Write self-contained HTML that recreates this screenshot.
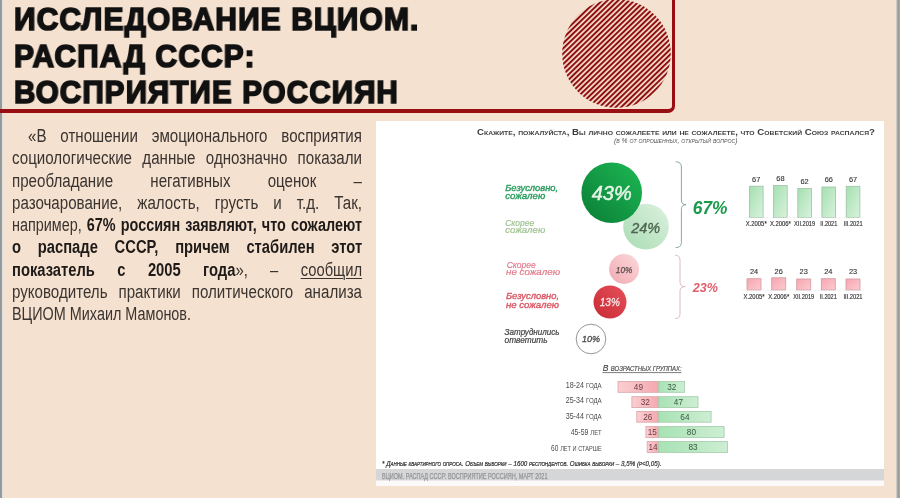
<!DOCTYPE html>
<html><head><meta charset="utf-8">
<style>
*{margin:0;padding:0;box-sizing:border-box}
html,body{width:900px;height:498px;overflow:hidden}
body{position:relative;background:#f5e1cf;font-family:"Liberation Sans",sans-serif}
.abs{position:absolute}
#para,.tl,svg{will-change:transform}
#lstrip{left:0;top:0;width:5px;height:498px;background:linear-gradient(90deg,#959a9c 0,#959a9c 2px,#e2dfdb 2.2px,#f0e4d8 4px,#f5e1cf 5px)}
#rstrip{left:895.5px;top:0;width:4.5px;height:498px;background:linear-gradient(90deg,#e0d8cf 0,#a0a0a0 1.8px,#9c9c9c 2.5px,#ababab 4.5px)}
#frame{left:-10px;top:-10px;width:684.8px;height:122.8px;border-right:3.5px solid #980e13;border-bottom:4px solid #980e13;border-bottom-right-radius:7px}
.tl{position:absolute;left:13.5px;font-weight:bold;font-size:32px;line-height:32px;color:#111;white-space:nowrap;transform-origin:0 0;-webkit-text-stroke:1.7px #111;letter-spacing:1.2px}
#para{color:#3a3431;font-size:18px}
.pl{position:absolute;height:22.3px;line-height:22.3px;white-space:pre;display:flex;justify-content:space-between;transform:scaleX(0.8);transform-origin:0 0}
.pl b{font-weight:bold;color:#1e1a18}
.pl u{text-decoration:underline;text-decoration-thickness:1px;text-underline-offset:2px}
#chart{left:376px;top:121px;width:508px;height:365px;background:#fff;overflow:hidden}
</style></head><body>
<div id="lstrip" class="abs"></div>
<div id="rstrip" class="abs"></div>
<svg class="abs" style="left:560px;top:-2px" width="114" height="112" viewBox="0 0 114 112">
  <defs>
    <clipPath id="cc"><circle cx="56.5" cy="55.5" r="54.3"/></clipPath>
    <pattern id="hp" patternUnits="userSpaceOnUse" width="4" height="3.75" patternTransform="rotate(-44)">
      <rect x="0" y="0" width="4" height="2.0" fill="#8e0d10"/>
    </pattern>
  </defs>
  <rect x="0" y="0" width="114" height="112" fill="url(#hp)" clip-path="url(#cc)"/>
</svg>
<div id="frame" class="abs"></div>
<div class="tl" id="t1" style="top:3px;transform:scaleX(0.935)">ИССЛЕДОВАНИЕ ВЦИОМ.</div>
<div class="tl" id="t2" style="top:40px;transform:scaleX(0.935)">РАСПАД СССР:</div>
<div class="tl" id="t3" style="top:76px;transform:scaleX(0.925)">ВОСПРИЯТИЕ РОССИЯН</div>

<div id="para">
<div class="pl" style="left:28px;top:124.9px;width:397.6px;transform:scaleX(0.84)"><span>«В</span><span>отношении</span><span>эмоционального</span><span>восприятия</span></div>
<div class="pl" style="left:12px;top:147.2px;width:416.7px;transform:scaleX(0.84)"><span>социологические</span><span>данные</span><span>однозначно</span><span>показали</span></div>
<div class="pl" style="left:12px;top:169.5px;width:416.7px;transform:scaleX(0.84)"><span>преобладание</span><span>негативных</span><span>оценок</span><span>–</span></div>
<div class="pl" style="left:12px;top:191.8px;width:416.7px;transform:scaleX(0.84)"><span>разочарование,</span><span>жалость,</span><span>грусть</span><span>и</span><span>т.д.</span><span>Так,</span></div>
<div class="pl" style="left:12px;top:214.1px;width:437.5px;transform:scaleX(0.8)"><span>например,</span><b>67%</b><b>россиян</b><b>заявляют,</b><b>что</b><b>сожалеют</b></div>
<div class="pl" style="left:12px;top:236.4px;width:427.0px;transform:scaleX(0.82)"><b>о</b><b>распаде</b><b>СССР,</b><b>причем</b><b>стабилен</b><b>этот</b></div>
<div class="pl" style="left:12px;top:258.8px;width:427.0px;transform:scaleX(0.82)"><span><b>показатель</b></span><span><b>с</b></span><span><b>2005</b></span><span><b>года</b>»,</span><span>–</span><span><u>сообщил</u></span></div>
<div class="pl" style="left:12px;top:281.1px;width:416.7px;transform:scaleX(0.84)"><span>руководитель</span><span>практики</span><span>политического</span><span>анализа</span></div>
<div class="pl" style="left:12px;top:303.4px;width:400px;justify-content:flex-start">ВЦИОМ Михаил Мамонов.</div>
</div>

<div id="chart" class="abs"></div>
<svg class="abs" style="left:376px;top:121px" width="508" height="365" viewBox="376 121 508 365">
<defs>
 <linearGradient id="g43" x1="0" y1="1" x2="1" y2="0"><stop offset="0" stop-color="#0a7d36"/><stop offset="1" stop-color="#1db853"/></linearGradient>
 <linearGradient id="g24" x1="0" y1="1" x2="1" y2="0"><stop offset="0" stop-color="#a9dcb3"/><stop offset="1" stop-color="#dcf1df"/></linearGradient>
 <linearGradient id="g10" x1="0" y1="1" x2="1" y2="0"><stop offset="0" stop-color="#f0aab2"/><stop offset="1" stop-color="#fbd9db"/></linearGradient>
 <linearGradient id="g13" x1="0" y1="1" x2="1" y2="0"><stop offset="0" stop-color="#c92a34"/><stop offset="1" stop-color="#e5505a"/></linearGradient>
 <linearGradient id="gb" x1="0" y1="0" x2="1" y2="1"><stop offset="0" stop-color="#a4e0b0"/><stop offset="1" stop-color="#d9f2dd"/></linearGradient>
 <linearGradient id="rb" x1="0" y1="0" x2="1" y2="1"><stop offset="0" stop-color="#f7a6b0"/><stop offset="1" stop-color="#fccbd0"/></linearGradient>
 <linearGradient id="ra" x1="0" y1="0" x2="1" y2="0"><stop offset="0" stop-color="#fbcfd2"/><stop offset="1" stop-color="#f4a8ae"/></linearGradient>
 <linearGradient id="ga" x1="0" y1="0" x2="1" y2="0"><stop offset="0" stop-color="#a8e2b4"/><stop offset="1" stop-color="#cdeed3"/></linearGradient>
</defs>
<g font-family="Liberation Sans">
<text x="477" y="135" font-size="8.5" font-weight="bold" fill="#3d3d3d" style="font-variant:small-caps" textLength="398" lengthAdjust="spacingAndGlyphs">Скажите, пожалуйста, Вы лично сожалеете или не сожалеете, что Советский Союз распался?</text>
<text x="614" y="142.5" font-size="6.5" font-style="italic" fill="#555" style="font-variant:small-caps" textLength="123.5" lengthAdjust="spacingAndGlyphs">(в % от опрошенных, открытый вопрос)</text>

<circle cx="646" cy="226.6" r="22.8" fill="url(#g24)"/>
<circle cx="611.7" cy="192.7" r="30.3" fill="url(#g43)"/>
<text x="591.7" y="200.2" font-size="19.5" font-style="italic" fill="#e6f4e8" stroke="#e6f4e8" stroke-width="0.45" textLength="40" lengthAdjust="spacingAndGlyphs">43%</text>
<text x="631.2" y="233.3" font-size="14.3" font-style="italic" fill="#4d6450" stroke="#4d6450" stroke-width="0.35" textLength="29" lengthAdjust="spacingAndGlyphs">24%</text>

<circle cx="624.1" cy="269" r="15" fill="url(#g10)"/>
<text x="615.8" y="272.9" font-size="9" font-style="italic" fill="#5a4a4a" stroke="#5a4a4a" stroke-width="0.25" textLength="16.5" lengthAdjust="spacingAndGlyphs">10%</text>
<circle cx="610" cy="302" r="16.5" fill="url(#g13)"/>
<text x="599.8" y="306.4" font-size="11.8" font-style="italic" fill="#fbe8ea" stroke="#fbe8ea" stroke-width="0.3" textLength="20" lengthAdjust="spacingAndGlyphs">13%</text>
<circle cx="591" cy="339" r="14.8" fill="#fff" stroke="#8a8a8a" stroke-width="0.9"/>
<text x="582" y="342.2" font-size="9" font-style="italic" fill="#4a4a4a" stroke="#4a4a4a" stroke-width="0.3" textLength="18" lengthAdjust="spacingAndGlyphs">10%</text>

<text x="505.2" y="191.3" font-size="8.7" font-style="italic" fill="#2b9c5e" stroke="#2b9c5e" stroke-width="0.35" textLength="53" lengthAdjust="spacingAndGlyphs">Безусловно,</text>
<text x="505.2" y="198.5" font-size="8.7" font-style="italic" fill="#2b9c5e" stroke="#2b9c5e" stroke-width="0.35" textLength="40" lengthAdjust="spacingAndGlyphs">сожалею</text>
<text x="505.2" y="225.9" font-size="9.2" font-style="italic" fill="#9fc290" stroke="#9fc290" stroke-width="0.2" textLength="29" lengthAdjust="spacingAndGlyphs">Скорее</text>
<text x="505.2" y="233" font-size="9.2" font-style="italic" fill="#9fc290" stroke="#9fc290" stroke-width="0.2" textLength="40" lengthAdjust="spacingAndGlyphs">сожалею</text>
<text x="506.7" y="267.7" font-size="9.2" font-style="italic" fill="#e27a8a" stroke="#e27a8a" stroke-width="0.2" textLength="29" lengthAdjust="spacingAndGlyphs">Скорее</text>
<text x="506" y="274.5" font-size="9.2" font-style="italic" fill="#e27a8a" stroke="#e27a8a" stroke-width="0.2" textLength="54" lengthAdjust="spacingAndGlyphs">не сожалею</text>
<text x="506" y="299.2" font-size="9" font-style="italic" fill="#da5664" stroke="#da5664" stroke-width="0.35" textLength="53" lengthAdjust="spacingAndGlyphs">Безусловно,</text>
<text x="506" y="307.9" font-size="9" font-style="italic" fill="#da5664" stroke="#da5664" stroke-width="0.35" textLength="53" lengthAdjust="spacingAndGlyphs">не сожалею</text>
<text x="504.6" y="335.4" font-size="8.5" font-style="italic" fill="#454545" stroke="#454545" stroke-width="0.22" textLength="55" lengthAdjust="spacingAndGlyphs">Затруднились</text>
<text x="504.6" y="342.9" font-size="8.5" font-style="italic" fill="#454545" stroke="#454545" stroke-width="0.22" textLength="43" lengthAdjust="spacingAndGlyphs">ответить</text>

<path d="M675.6 161.8 Q681.4 161.8 681.4 167 L681.4 200 Q681.4 204.7 686.1 204.7 Q681.4 204.7 681.4 209.5 L681.4 242.5 Q681.4 247.6 675.6 247.6" fill="none" stroke="#8fa896" stroke-width="1"/>
<path d="M675.2 255.3 Q680 255.3 680 260 L680 282 Q680 286.6 685.3 286.6 Q680 286.6 680 291 L680 314 Q680 318.5 675.2 318.5" fill="none" stroke="#dcbcc0" stroke-width="1"/>
<text x="692.8" y="214.3" font-size="18.5" font-weight="bold" font-style="italic" fill="#1a9a4c" textLength="34.7" lengthAdjust="spacingAndGlyphs">67%</text>
<text x="692.8" y="292.2" font-size="12.3" font-weight="bold" font-style="italic" fill="#e0606e" textLength="25.2" lengthAdjust="spacingAndGlyphs">23%</text>
<rect x="749.4" y="186.2" width="13.7" height="31.2" fill="url(#gb)" stroke="#9fc2a6" stroke-width="0.8"/>
<text x="756.2" y="181.6" font-size="7.4" fill="#333" stroke="#333" stroke-width="0.12" text-anchor="middle">67</text>
<rect x="773.5" y="185.6" width="13.7" height="31.8" fill="url(#gb)" stroke="#9fc2a6" stroke-width="0.8"/>
<text x="780.4" y="181.0" font-size="7.4" fill="#333" stroke="#333" stroke-width="0.12" text-anchor="middle">68</text>
<rect x="797.8" y="188.5" width="13.7" height="28.9" fill="url(#gb)" stroke="#9fc2a6" stroke-width="0.8"/>
<text x="804.6" y="183.9" font-size="7.4" fill="#333" stroke="#333" stroke-width="0.12" text-anchor="middle">62</text>
<rect x="821.9" y="187.0" width="13.7" height="30.4" fill="url(#gb)" stroke="#9fc2a6" stroke-width="0.8"/>
<text x="828.8" y="182.4" font-size="7.4" fill="#333" stroke="#333" stroke-width="0.12" text-anchor="middle">66</text>
<rect x="846.2" y="186.3" width="13.7" height="31.1" fill="url(#gb)" stroke="#9fc2a6" stroke-width="0.8"/>
<text x="853.1" y="181.7" font-size="7.4" fill="#333" stroke="#333" stroke-width="0.12" text-anchor="middle">67</text>
<line x1="744" y1="217.6" x2="864" y2="217.6" stroke="#e2e2e2" stroke-width="0.6" stroke-dasharray="1.5 1"/>
<text x="756.2" y="226.3" font-size="6.8" fill="#333" stroke="#333" stroke-width="0.15" text-anchor="middle" textLength="21" lengthAdjust="spacingAndGlyphs">X.2005*</text>
<text x="780.4" y="226.3" font-size="6.8" fill="#333" stroke="#333" stroke-width="0.15" text-anchor="middle" textLength="21" lengthAdjust="spacingAndGlyphs">X.2006*</text>
<text x="804.6" y="226.3" font-size="6.8" fill="#333" stroke="#333" stroke-width="0.15" text-anchor="middle" textLength="21" lengthAdjust="spacingAndGlyphs">XII.2019</text>
<text x="828.8" y="226.3" font-size="6.8" fill="#333" stroke="#333" stroke-width="0.15" text-anchor="middle" textLength="17" lengthAdjust="spacingAndGlyphs">II.2021</text>
<text x="853.1" y="226.3" font-size="6.8" fill="#333" stroke="#333" stroke-width="0.15" text-anchor="middle" textLength="19" lengthAdjust="spacingAndGlyphs">III.2021</text>
<rect x="747.0" y="278.7" width="14" height="11.3" fill="url(#rb)" stroke="#cf9aa2" stroke-width="0.8"/>
<text x="754.0" y="273.8" font-size="7.4" fill="#333" stroke="#333" stroke-width="0.12" text-anchor="middle">24</text>
<text x="754.0" y="298.8" font-size="6.8" fill="#333" stroke="#333" stroke-width="0.15" text-anchor="middle" textLength="21" lengthAdjust="spacingAndGlyphs">X.2005*</text>
<rect x="771.7" y="277.8" width="14" height="12.2" fill="url(#rb)" stroke="#cf9aa2" stroke-width="0.8"/>
<text x="778.7" y="273.8" font-size="7.4" fill="#333" stroke="#333" stroke-width="0.12" text-anchor="middle">26</text>
<text x="778.7" y="298.8" font-size="6.8" fill="#333" stroke="#333" stroke-width="0.15" text-anchor="middle" textLength="21" lengthAdjust="spacingAndGlyphs">X.2006*</text>
<rect x="796.7" y="279.0" width="14" height="11.0" fill="url(#rb)" stroke="#cf9aa2" stroke-width="0.8"/>
<text x="803.7" y="273.8" font-size="7.4" fill="#333" stroke="#333" stroke-width="0.12" text-anchor="middle">23</text>
<text x="803.7" y="298.8" font-size="6.8" fill="#333" stroke="#333" stroke-width="0.15" text-anchor="middle" textLength="21" lengthAdjust="spacingAndGlyphs">XII.2019</text>
<rect x="821.3" y="278.7" width="14" height="11.3" fill="url(#rb)" stroke="#cf9aa2" stroke-width="0.8"/>
<text x="828.3" y="273.8" font-size="7.4" fill="#333" stroke="#333" stroke-width="0.12" text-anchor="middle">24</text>
<text x="828.3" y="298.8" font-size="6.8" fill="#333" stroke="#333" stroke-width="0.15" text-anchor="middle" textLength="17" lengthAdjust="spacingAndGlyphs">II.2021</text>
<rect x="846.0" y="279.0" width="14" height="11.0" fill="url(#rb)" stroke="#cf9aa2" stroke-width="0.8"/>
<text x="853.0" y="273.8" font-size="7.4" fill="#333" stroke="#333" stroke-width="0.12" text-anchor="middle">23</text>
<text x="853.0" y="298.8" font-size="6.8" fill="#333" stroke="#333" stroke-width="0.15" text-anchor="middle" textLength="19" lengthAdjust="spacingAndGlyphs">III.2021</text>
<line x1="742" y1="290.2" x2="864" y2="290.2" stroke="#e8e8e8" stroke-width="0.6" stroke-dasharray="1.5 1"/>
<text x="602.7" y="371.3" font-style="italic" fill="#484848" stroke="#484848" stroke-width="0.15" textLength="79" lengthAdjust="spacingAndGlyphs"><tspan font-size="9">В </tspan><tspan font-size="6.3">ВОЗРАСТНЫХ ГРУППАХ:</tspan></text>
<line x1="602.5" y1="372.6" x2="681.5" y2="372.6" stroke="#5a5a5a" stroke-width="0.8"/>
<rect x="618.0" y="381.5" width="40.7" height="10.8" fill="url(#ra)" stroke="#d9a3a8" stroke-width="0.8"/>
<rect x="658.7" y="381.5" width="25.9" height="10.8" fill="url(#ga)" stroke="#a3cba9" stroke-width="0.8"/>
<text x="638.4" y="389.6" font-size="8.2" fill="#6a3d44" text-anchor="middle">49</text>
<text x="671.7" y="389.6" font-size="8.2" fill="#35573d" text-anchor="middle">32</text>
<text x="601.7" y="387.5" fill="#4a4a4a" text-anchor="end" textLength="36" lengthAdjust="spacingAndGlyphs"><tspan font-size="8.2">18-24 </tspan><tspan font-size="7.0">ГОДА</tspan></text>
<rect x="631.9" y="396.7" width="26.8" height="10.8" fill="url(#ra)" stroke="#d9a3a8" stroke-width="0.8"/>
<rect x="658.7" y="396.7" width="39.3" height="10.8" fill="url(#ga)" stroke="#a3cba9" stroke-width="0.8"/>
<text x="645.3" y="404.8" font-size="8.2" fill="#6a3d44" text-anchor="middle">32</text>
<text x="678.4" y="404.8" font-size="8.2" fill="#35573d" text-anchor="middle">47</text>
<text x="601.7" y="402.9" fill="#4a4a4a" text-anchor="end" textLength="36" lengthAdjust="spacingAndGlyphs"><tspan font-size="8.2">25-34 </tspan><tspan font-size="7.0">ГОДА</tspan></text>
<rect x="636.8" y="411.4" width="21.9" height="10.8" fill="url(#ra)" stroke="#d9a3a8" stroke-width="0.8"/>
<rect x="658.7" y="411.4" width="52.4" height="10.8" fill="url(#ga)" stroke="#a3cba9" stroke-width="0.8"/>
<text x="647.8" y="419.5" font-size="8.2" fill="#6a3d44" text-anchor="middle">26</text>
<text x="684.9" y="419.5" font-size="8.2" fill="#35573d" text-anchor="middle">64</text>
<text x="601.7" y="419.1" fill="#4a4a4a" text-anchor="end" textLength="36" lengthAdjust="spacingAndGlyphs"><tspan font-size="8.2">35-44 </tspan><tspan font-size="7.0">ГОДА</tspan></text>
<rect x="645.9" y="426.6" width="12.8" height="10.8" fill="url(#ra)" stroke="#d9a3a8" stroke-width="0.8"/>
<rect x="658.7" y="426.6" width="65.4" height="10.8" fill="url(#ga)" stroke="#a3cba9" stroke-width="0.8"/>
<text x="652.3" y="434.7" font-size="8.2" fill="#6a3d44" text-anchor="middle">15</text>
<text x="691.4" y="434.7" font-size="8.2" fill="#35573d" text-anchor="middle">80</text>
<text x="601.7" y="435.0" fill="#4a4a4a" text-anchor="end" textLength="31" lengthAdjust="spacingAndGlyphs"><tspan font-size="8.2">45-59 </tspan><tspan font-size="7.0">ЛЕТ</tspan></text>
<rect x="647.2" y="441.6" width="11.5" height="10.8" fill="url(#ra)" stroke="#d9a3a8" stroke-width="0.8"/>
<rect x="658.7" y="441.6" width="68.8" height="10.8" fill="url(#ga)" stroke="#a3cba9" stroke-width="0.8"/>
<text x="653.0" y="449.7" font-size="8.2" fill="#6a3d44" text-anchor="middle">14</text>
<text x="693.1" y="449.7" font-size="8.2" fill="#35573d" text-anchor="middle">83</text>
<text x="601.7" y="450.8" fill="#4a4a4a" text-anchor="end" textLength="50.7" lengthAdjust="spacingAndGlyphs"><tspan font-size="8.2">60 </tspan><tspan font-size="7.0">ЛЕТ И СТАРШЕ</tspan></text>
<text x="382" y="465.5" font-size="7" font-style="italic" fill="#2e2e2e" stroke="#2e2e2e" stroke-width="0.2" style="font-variant:small-caps" textLength="279.5" lengthAdjust="spacingAndGlyphs">* Данные квартирного опроса. Объем выборки – 1600 респондентов. Ошибка выборки – 3,5% (p&lt;0,05).</text>
<rect x="376" y="469" width="508" height="11.7" fill="#d5d6d8"/>
<rect x="376" y="480.7" width="508" height="5.3" fill="#fbfaf8"/>
<text x="382" y="479.2" font-size="8.6" fill="#959595" stroke="#959595" stroke-width="0.25" textLength="165.5" lengthAdjust="spacingAndGlyphs">ВЦИОМ. РАСПАД СССР: ВОСПРИЯТИЕ РОССИЯН, МАРТ 2021</text>
</g></svg>
</body></html>
